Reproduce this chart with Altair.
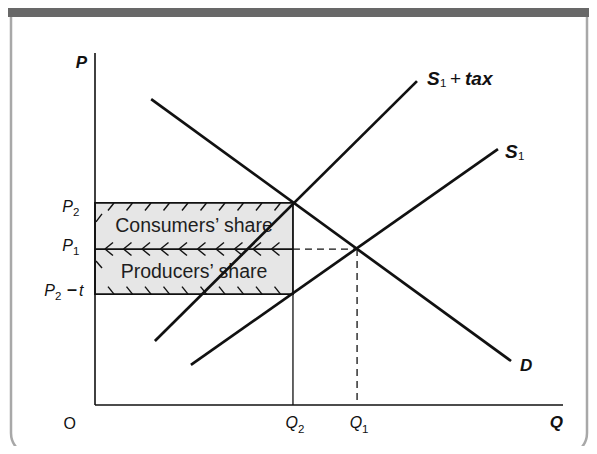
import altair as alt
import pandas as pd
import numpy as np

# ---------------- data ----------------
Q_MAX, P_MAX = 100, 100
Q2, Q1 = 42.3, 56.0
P2, P1, P2T = 57.4, 44.3, 31.5

curve_names = ["D", "S1", "S1 + tax"]
curve_q0 = [12.0, 20.5, 12.8]
curve_p0 = [86.9, 11.4, 18.2]
curve_q1 = [88.9, 86.1, 68.8]
curve_p1 = [12.5, 72.7, 92.0]

share_labels = ["Consumers\u2019 share", "Producers\u2019 share"]

# ---------------- styling ----------------
W, H = 468, 352
FONT = "Liberation Sans"
INK = "#111111"
px, py = W / Q_MAX, H / P_MAX   # pixels per data unit

xs = alt.Scale(domain=[0, Q_MAX], nice=False, zero=False)
ys = alt.Scale(domain=[0, P_MAX], nice=False, zero=False)


def X(f):
    return alt.X(f, type="quantitative", scale=xs, axis=None)


def Y(f):
    return alt.Y(f, type="quantitative", scale=ys, axis=None)


def X2(f):
    return alt.X2(f)


def Y2(f):
    return alt.Y2(f)


one = pd.DataFrame({"a": [0]})

# frame and header band
frame = alt.Chart(one).mark_rect(
    fillOpacity=0, stroke="#a8a8a8", strokeWidth=2.5, cornerRadius=22
).encode(x=alt.value(-84), x2=alt.value(492), y=alt.value(-90), y2=alt.value(402))
header = alt.Chart(one).mark_rect(color="#686868").encode(
    x=alt.value(-100), x2=alt.value(510), y=alt.value(-70), y2=alt.value(-36)
)

# shaded tax rectangle
box = alt.Chart(pd.DataFrame({"x": [0], "x2": [Q2], "y": [P2T], "y2": [P2]})).mark_rect(
    fill="#e6e6e6", stroke=INK, strokeWidth=1.8
).encode(x=X("x"), x2=X2("x2"), y=Y("y"), y2=Y2("y2"))

# hatch ticks along the edges of the two bands
v = np.arange(10, Q2 * px - 16, 18.5) / px
segs = []
for xv in v:
    segs.append((xv + 9 / px, P2, xv + 3 / px, P2 - 7.5 / py))
    segs.append((xv, P1, xv + 8 / px, P1 + 6.5 / py))
    segs.append((xv, P1, xv + 8 / px, P1 - 6.5 / py))
    segs.append((xv + 3 / px, P2T + 7.5 / py, xv + 9 / px, P2T))
segs.append((1 / px, P2 - 19 / py, 7 / px, P2 - 11 / py))
segs.append((1 / px, P1 - 12 / py, 7 / px, P1 - 19 / py))
hatch_df = pd.DataFrame(segs, columns=["x", "y", "x2", "y2"])
hatch = alt.Chart(hatch_df).mark_rule(color=INK, strokeWidth=1.4).encode(
    x=X("x"), y=Y("y"), x2=X2("x2"), y2=Y2("y2")
)

share_df = pd.DataFrame({
    "t": share_labels,
    "x": [Q2 / 2, Q2 / 2],
    "y": [(P2 + P1) / 2, (P1 + P2T) / 2],
})
share = alt.Chart(share_df).mark_text(
    font=FONT, fontSize=19.5, color="#1e1e1e", align="center", baseline="middle"
).encode(x=X("x"), y=Y("y"), text="t:N")

# P1 solid inside the box, dashed beyond; Q lines
p1_solid = alt.Chart(pd.DataFrame({"x": [0], "x2": [Q2], "y": [P1]})).mark_rule(
    color=INK, strokeWidth=1.8).encode(x=X("x"), x2=X2("x2"), y=Y("y"))
dashes = alt.Chart(pd.DataFrame({
    "x": [Q2, Q1], "x2": [Q1, Q1], "y": [P1, P1], "y2": [P1, 0]
})).mark_rule(color=INK, strokeWidth=1.3, strokeDash=[7, 5]).encode(
    x=X("x"), x2=X2("x2"), y=Y("y"), y2=Y2("y2"))
q2_line = alt.Chart(pd.DataFrame({"x": [Q2], "y": [0], "y2": [P2T]})).mark_rule(
    color=INK, strokeWidth=1.3).encode(x=X("x"), y=Y("y"), y2=Y2("y2"))

axes = alt.Chart(pd.DataFrame({
    "x": [0, 0], "x2": [0, Q_MAX], "y": [0, 0], "y2": [P_MAX, 0]
})).mark_rule(color=INK, strokeWidth=1.6).encode(
    x=X("x"), x2=X2("x2"), y=Y("y"), y2=Y2("y2"))

curves = alt.Chart(pd.DataFrame({
    "name": curve_names, "x": curve_q0, "y": curve_p0, "x2": curve_q1, "y2": curve_p1
})).mark_rule(color=INK, strokeWidth=2.7).encode(
    x=X("x"), y=Y("y"), x2=X2("x2"), y2=Y2("y2"), detail="name:N")


def txt(s, x, y, dx, dy, size=16, weight="normal", style="normal", align="left"):
    return alt.Chart(pd.DataFrame({"x": [x], "y": [y]})).mark_text(
        text=s, dx=dx, dy=dy, align=align, baseline="alphabetic", font=FONT,
        fontSize=size, fontWeight=weight, fontStyle=style, color=INK
    ).encode(x=X("x"), y=Y("y"))


labels = [
    txt("P", 0, P_MAX, -8, 15, 17, "bold", "italic", "right"),
    txt("Q", Q_MAX, 0, 0, 23, 17, "bold", "italic", "right"),
    txt("O", 0, 0, -19, 24, 16, "normal", "normal", "right"),
    # Q2, Q1
    txt("Q", Q2, 0, 5, 23, 16, "normal", "italic", "right"),
    txt("2", Q2, 0, 5, 28, 11.5, "normal", "normal", "left"),
    txt("Q", Q1, 0, 5, 23, 16, "normal", "italic", "right"),
    txt("1", Q1, 0, 5, 28, 11.5, "normal", "normal", "left"),
    # P2, P1, P2 - t
    txt("P", 0, P2, -22, 9, 16, "normal", "italic", "right"),
    txt("2", 0, P2, -22, 13, 11.5, "normal", "normal", "left"),
    txt("P", 0, P1, -22, 2, 16, "normal", "italic", "right"),
    txt("1", 0, P1, -22, 6, 11.5, "normal", "normal", "left"),
    txt("P", 0, P2T, -40, 2, 16, "normal", "italic", "right"),
    txt("2", 0, P2T, -40, 6, 11.5, "normal", "normal", "left"),
    txt("\u2013", 0, P2T, -23, 1, 18, "bold", "normal", "center"),
    txt("t", 0, P2T, -16, 2, 16, "normal", "italic", "left"),
    # curve labels
    txt("S", curve_q1[2], curve_p1[2], 10, 4, 19, "bold", "italic", "left"),
    txt("1", curve_q1[2], curve_p1[2], 23, 6, 11.5, "normal", "normal", "left"),
    txt("+", curve_q1[2], curve_p1[2], 33, 4, 19, "normal", "normal", "left"),
    txt("tax", curve_q1[2], curve_p1[2], 48, 4, 19, "bold", "italic", "left"),
    txt("S", curve_q1[1], curve_p1[1], 7, 9, 19, "bold", "italic", "left"),
    txt("1", curve_q1[1], curve_p1[1], 20, 11, 11.5, "normal", "normal", "left"),
    txt("D", curve_q1[0], curve_p1[0], 9, 10, 17, "bold", "italic", "left"),
]

chart = alt.layer(
    frame, header, box, hatch, share, p1_solid, dashes, q2_line, axes, curves, *labels
).properties(
    width=W, height=H,
    autosize=alt.AutoSizeParams(type="none"),
    padding={"left": 87, "top": 45, "right": 26, "bottom": 41},
).configure_view(stroke=None)

chart.save("out.html", embed_options={"renderer": "svg", "actions": False})
